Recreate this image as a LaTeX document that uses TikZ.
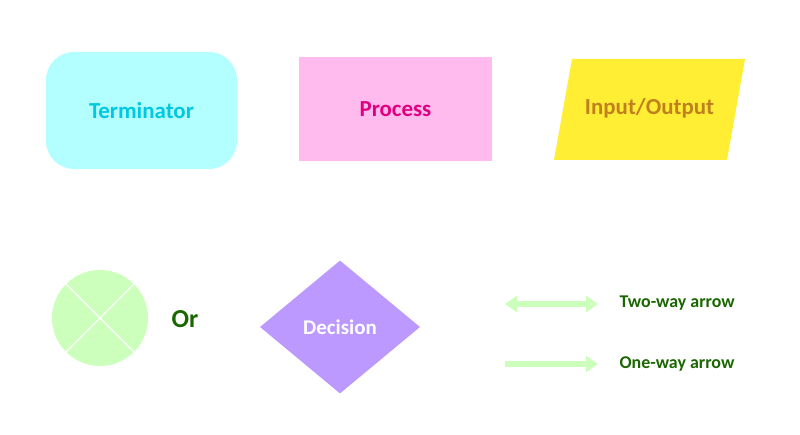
\documentclass[tikz,border=0pt]{standalone}
\usepackage{fontspec}
\setmainfont{Carlito}
\usetikzlibrary{shapes.geometric,arrows.meta}
\definecolor{termfill}{HTML}{B3FFFF}
\definecolor{termtext}{HTML}{00C8E0}
\definecolor{procfill}{HTML}{FFBBEE}
\definecolor{proctext}{HTML}{E0007F}
\definecolor{iofill}{HTML}{FFEE33}
\definecolor{iotext}{HTML}{C08020}
\definecolor{lightgreen}{HTML}{CCFFBB}
\definecolor{darkgreen}{HTML}{1A6600}
\definecolor{decfill}{HTML}{BB99FF}
\tikzset{
  shapetext/.style={font=\bfseries\fontsize{23}{27}\selectfont},
  terminator/.style={draw=none, fill=termfill, rounded corners=28bp, minimum width=191bp, minimum height=117bp, shapetext, text=termtext},
  process/.style={draw=none, fill=procfill, minimum width=193bp, minimum height=104bp, shapetext, text=proctext},
  iotext/.style={shapetext, text=iotext},
  decision/.style={draw=none, fill=decfill, diamond, minimum width=160bp, minimum height=133bp, aspect=1.2, inner sep=0pt, font=\bfseries\fontsize{21}{25}\selectfont, text=white},
  connector/.style={draw=none, fill=lightgreen, circle, minimum size=96bp},
  arrowlabel/.style={anchor=west, text=darkgreen, font=\bfseries\fontsize{18}{22}\selectfont},
  flowarrow/.style={draw=lightgreen, line width=6bp, -{Triangle[length=12bp,width=16bp]}},
}
\begin{document}
\begin{tikzpicture}[x=1bp,y=-1bp]
\useasboundingbox (0,0) rectangle (800,435);
% top row
\node (term) [terminator] at (141.5,110.5) {Terminator};
\node (proc) [process] at (395.5,109) {Process};
\fill[iofill] (572,59) -- (745,59) -- (727,160) -- (554,160) -- cycle;
\node (inout) [iotext] at (649.5,108) {Input/Output};
% bottom row
\node (conn) [connector] at (100,318) {};
\draw[white, line width=1.2bp] (conn.north west) -- (conn.south east)
  (conn.north east) -- (conn.south west);
\node (or) [text=darkgreen, font=\bfseries\fontsize{26}{30}\selectfont] at (185,319) {Or};
\node (dec) [decision] at (340,327) {Decision};
% arrows
\coordinate (twoa) at (505,304);
\coordinate (twob) at (598,304);
\coordinate (onea) at (505,364);
\coordinate (oneb) at (598,364);
\draw[flowarrow, {Triangle[length=12bp,width=16bp]}-{Triangle[length=12bp,width=16bp]}] (twoa) -- (twob);
\draw[flowarrow] (onea) -- (oneb);
\node (twolabel) [arrowlabel] at (616,303) {Two-way arrow};
\node (onelabel) [arrowlabel] at (616,364) {One-way arrow};
\end{tikzpicture}
\end{document}
